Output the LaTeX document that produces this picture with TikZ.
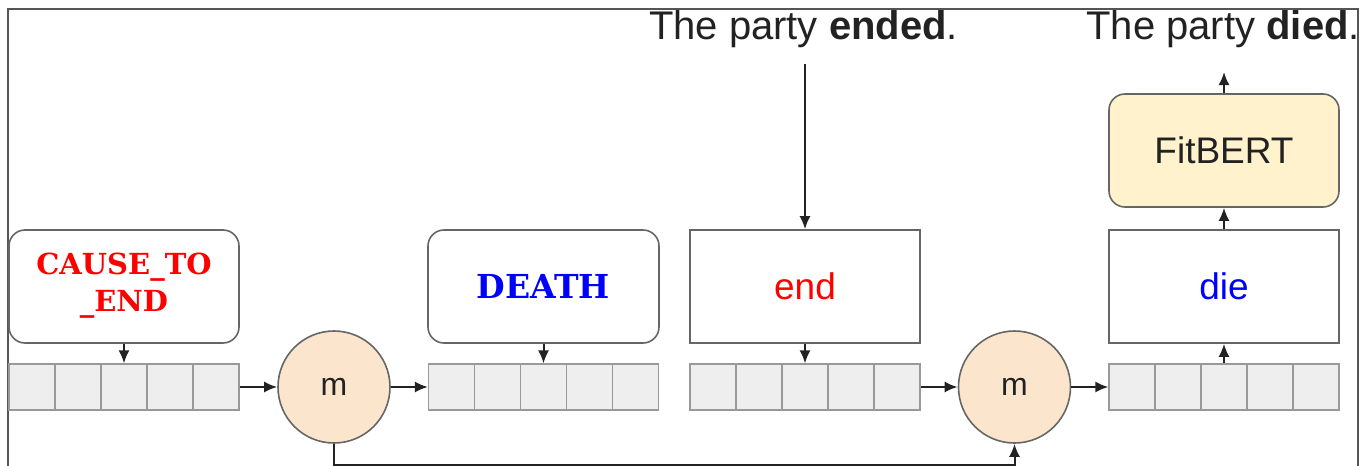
\documentclass[tikz,border=0pt]{standalone}
\usepackage{fontspec}
\setmainfont{Liberation Sans}
\newfontfamily\dvserif{DejaVu Serif}
\usetikzlibrary{arrows.meta,calc}
\definecolor{boxgray}{HTML}{666666}
\definecolor{cellgray}{HTML}{999999}
\definecolor{cellfill}{HTML}{EEEEEE}
\definecolor{mfill}{HTML}{FCE5CD}
\definecolor{fitfill}{HTML}{FFF2CC}
\definecolor{framegray}{HTML}{555555}
\definecolor{txtdark}{HTML}{222222}
\definecolor{myred}{HTML}{FF0000}
\definecolor{myblue}{HTML}{0000FF}
\tikzset{
 box/.style={draw=boxgray, line width=1.6pt, minimum width=230pt, minimum height=113pt, inner sep=0pt, fill=white},
 rbox/.style={box, rounded corners=16pt},
 cell/.style={draw=cellgray, fill=cellfill, line width=1.2pt, minimum width=46pt, minimum height=46pt, inner sep=0pt},
 mnode/.style={circle, draw=boxgray, line width=1.6pt, fill=mfill, minimum size=112pt, inner sep=0pt, text=txtdark, font=\fontsize{32}{38}\selectfont},
 arr/.style={-{Latex[length=13pt,width=11pt]}, line width=2pt, draw=txtdark},
 lbl/.style={font=\fontsize{40}{48}\selectfont, text=txtdark, inner sep=0pt},
 sanslbl/.style={font=\fontsize{37}{44}\selectfont},
 seriflbl/.style={font=\dvserif\bfseries\fontsize{29}{37}\selectfont, align=center},
 frame/.style={draw=framegray, line width=2pt},
}
\begin{document}
\begin{tikzpicture}[x=1pt,y=-1pt]
\useasboundingbox (0,0) rectangle (1361,466);
% frame
\draw[frame] (8,470) -- (8,9) -- (1358,9) -- (1358,470);
% top boxes
\node[rbox] (cte) at (124,286.5) {};
\node[seriflbl, text=myred] (ctetxt) at (124,286) {CAUSE\_TO\\\_END};
\node[rbox, minimum width=231pt] (death) at (543.5,286.5) {};
\node[font=\dvserif\bfseries\fontsize{33}{40}\selectfont, text=myblue] (deathtxt) at (543.5,286.5) {DEATH};
\node[box, sanslbl, text=myred] (endb) at (805,286.5) {end};
\node[box, sanslbl, text=myblue] (die) at (1224,286.5) {die};
\node[rbox, fill=fitfill, sanslbl, text=txtdark] (fit) at (1224,150.5) {FitBERT};
% arrays
\foreach \a/\cx in {1/124, 2/543.5, 3/805, 4/1224} {
  \foreach \i in {1,...,5} {
    \node[cell] (a\a c\i) at ({\cx+46*(\i-3)},387) {};
  }
}
% merge nodes
\node[mnode] (m1) at (334,387) {m};
\node[mnode] (m2) at (1014.5,387) {m};
% sentences
\node[lbl, anchor=base] (t1) at (803.5,39) {The party \textbf{ended}.};
\node[lbl, anchor=base east] (t2) at (1360,39) {The party \textbf{died}.};
\coordinate (out) at (1224,72);
% connectors
\draw[arr] (cte.south) -- (a1c3.north);
\draw[arr] (death.south) -- (a2c3.north);
\draw[arr] (endb.south) -- (a3c3.north);
\draw[arr] (a4c3.north) -- (die.south);
\draw[arr] (die.north) -- (fit.south);
\draw[arr] (fit.north) -- (out);
\draw[arr, shorten <=16pt] (endb.north |- t1.south) -- (endb.north);
\draw[arr] (a1c5.east) -- (m1.west);
\draw[arr] (m1.east) -- (a2c1.west);
\draw[arr] (a3c5.east) -- (m2.west);
\draw[arr] (m2.east) -- (a4c1.west);
\draw[arr] (m1.south) -- ++(0,21) -| (m2.south);
\end{tikzpicture}
\end{document}
